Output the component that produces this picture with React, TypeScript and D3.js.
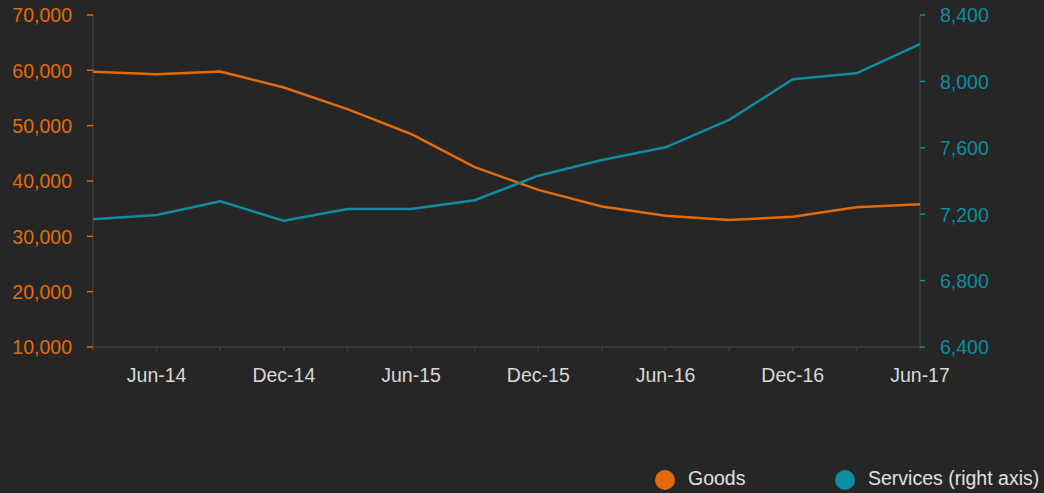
import React from "react";
import * as d3 from "d3";

const quarters = ["Mar-14","Jun-14","Sep-14","Dec-14","Mar-15","Jun-15","Sep-15","Dec-15","Mar-16","Jun-16","Sep-16","Dec-16","Mar-17","Jun-17"];
const goods = [59750, 59300, 59800, 56900, 53000, 48500, 42500, 38400, 35400, 33700, 32950, 33550, 35250, 35800];
const services = [7170, 7195, 7278, 7160, 7231, 7231, 7284, 7432, 7527, 7603, 7768, 8013, 8049, 8225];
const leftTicks = [10000, 20000, 30000, 40000, 50000, 60000, 70000];
const rightTicks = [6400, 6800, 7200, 7600, 8000, 8400];
const xLabels = ["Jun-14", "Dec-14", "Jun-15", "Dec-15", "Jun-16", "Dec-16", "Jun-17"];

const W = 1044, H = 493;
const left = 93, right = 920, top = 15, bottom = 347;
const ORANGE = "#e36c0a";
const TEAL = "#0e8ca0";
const BG = "#262626";
const AXIS = "#3d3d3d";
const FONT = "Liberation Sans, Arial, sans-serif";

export default function App() {
  const x = d3.scalePoint<string>().domain(quarters).range([left, right]);
  const yL = d3.scaleLinear().domain([10000, 70000]).range([bottom, top]);
  const yR = d3.scaleLinear().domain([6400, 8400]).range([bottom, top]);
  const lineG = d3.line<number>().x((_, i) => x(quarters[i])!).y(d => yL(d));
  const lineS = d3.line<number>().x((_, i) => x(quarters[i])!).y(d => yR(d));
  const fmt = d3.format(",");
  return (
    <svg width={W} height={H} style={{ position: "absolute", left: 0, top: 0, background: BG }} fontFamily={FONT}>
      <rect x={0} y={0} width={W} height={H} fill={BG} />
      <line x1={left} x2={left} y1={top} y2={bottom} stroke={AXIS} strokeWidth={1.5} />
      <line x1={right} x2={right} y1={top} y2={bottom} stroke={AXIS} strokeWidth={1.5} />
      <line x1={left} x2={right} y1={bottom} y2={bottom} stroke={AXIS} strokeWidth={1.5} />
      {quarters.map(q => (
        <line key={q} x1={x(q)} x2={x(q)} y1={bottom} y2={bottom + 4} stroke={AXIS} strokeWidth={1.5} />
      ))}
      {leftTicks.map(t => (
        <g key={t}>
          <line x1={left - 6} x2={left} y1={yL(t)} y2={yL(t)} stroke={ORANGE} strokeWidth={1.5} />
          <text x={72} y={yL(t)} dy="0.38em" textAnchor="end" fill={ORANGE} fontSize={19.5}>{fmt(t)}</text>
        </g>
      ))}
      {rightTicks.map(t => (
        <g key={t}>
          <line x1={right} x2={right + 5} y1={yR(t)} y2={yR(t)} stroke={TEAL} strokeWidth={1.5} />
          <text x={940} y={yR(t)} dy="0.38em" textAnchor="start" fill={TEAL} fontSize={19.5}>{fmt(t)}</text>
        </g>
      ))}
      {xLabels.map(l => (
        <text key={l} x={x(l)} y={382} textAnchor="middle" fill="#d9d9d9" fontSize={19.5}>{l}</text>
      ))}
      <path d={lineG(goods)!} fill="none" stroke={ORANGE} strokeWidth={2.5} strokeLinejoin="round" />
      <path d={lineS(services)!} fill="none" stroke={TEAL} strokeWidth={2.5} strokeLinejoin="round" />
      <circle cx={665} cy={480} r={10} fill={ORANGE} />
      <text x={688} y={485} fill="#e0e0e0" fontSize={19.5}>Goods</text>
      <circle cx={845} cy={480} r={10} fill={TEAL} />
      <text x={868} y={485} fill="#e0e0e0" fontSize={19.5}>Services (right axis)</text>
    </svg>
  );
}
